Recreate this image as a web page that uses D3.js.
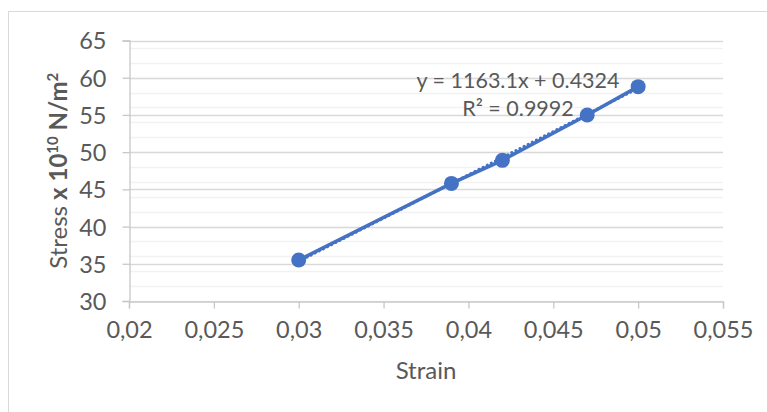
<!DOCTYPE html>
<html>
<head>
<meta charset="utf-8">
<script src="https://cdn.jsdelivr.net/npm/d3@7"></script>
<style>
  body { margin: 0; background: #fff; }
  text { font-family: Lato, "Open Sans", sans-serif; fill: #595959; }
</style>
</head>
<body>
<div id="chart"></div>
<script>
// stress vs strain
const strain = [0.03, 0.039, 0.042, 0.047, 0.05]
const stress = [35.5, 45.8, 48.9, 55.0, 58.8]
const xTicks = [0.02, 0.025, 0.03, 0.035, 0.04, 0.045, 0.05, 0.055]
const yTicks = [30, 35, 40, 45, 50, 55, 60, 65]
const yMinor = [30, 32, 34, 36, 38, 40, 42, 44, 46, 48, 50, 52, 54, 56, 58, 60, 62, 64]
const slope = 1163.1, intercept = 0.4324
const eqText = "y = 1163.1x + 0.4324"
const r2Text = "R² = 0.9992"

const width = 767, height = 412
const margin = { top: 40.5, bottom: 111, left: 129, right: 44 }
const blue = "#4472C4"

const svg = d3.select("#chart").append("svg")
    .attr("width", width)
    .attr("height", height)

// chart area border (runs off right and bottom)
svg.append("rect")
  .attr("x", 8.5).attr("y", 11.5)
  .attr("width", 800).attr("height", 450)
  .attr("fill", "none").attr("stroke", "#d9d9d9")

const x = d3.scaleLinear().domain([0.02, 0.055]).range([margin.left, width - margin.right])
const y = d3.scaleLinear().domain([30, 65]).range([height - margin.bottom, margin.top])

// minor gridlines
svg.append("g").selectAll("line").data(yMinor).join("line")
  .attr("x1", x(0.02)).attr("x2", x(0.055))
  .attr("y1", d => Math.round(y(d)) + 0.5).attr("y2", d => Math.round(y(d)) + 0.5)
  .attr("stroke", "#f2f2f2").attr("stroke-width", 1.3)

// major gridlines
svg.append("g").selectAll("line").data(yTicks.slice(1)).join("line")
  .attr("x1", x(0.02)).attr("x2", x(0.055))
  .attr("y1", d => Math.round(y(d)) + 0.5).attr("y2", d => Math.round(y(d)) + 0.5)
  .attr("stroke", "#d9d9d9").attr("stroke-width", 1.3)

const fmt = d => String(d).replace(".", ",")

const xAxis = svg.append("g")
  .attr("transform", "translate(0," + (Math.round(y(30)) + 0.5) + ")")
  .call(d3.axisBottom(x).tickValues(xTicks).tickFormat(fmt).tickSize(7).tickPadding(13))
const yAxis = svg.append("g")
  .attr("transform", "translate(" + (Math.round(x(0.02)) + 0.5) + ",0)")
  .call(d3.axisLeft(y).tickValues(yTicks).tickSize(7).tickPadding(16))

for (const ax of [xAxis, yAxis]) {
  ax.select(".domain").attr("stroke", "#c8c8c8").attr("stroke-width", 1.3)
  ax.selectAll(".tick line").attr("stroke", "#c8c8c8").attr("stroke-width", 1.3)
  ax.selectAll(".tick text").attr("font-size", 23.5).attr("fill", "#595959")
    .attr("font-family", "Lato, sans-serif")
}
yAxis.selectAll(".tick text").attr("dy", "0.36em")

// axis titles
svg.append("text")
  .attr("x", (x(0.02) + x(0.055)) / 2).attr("y", 379)
  .attr("text-anchor", "middle").attr("font-size", 24)
  .text("Strain")

const yt = svg.append("text")
  .attr("transform", "translate(67," + ((y(30) + y(65)) / 2) + ") rotate(-90)")
  .attr("text-anchor", "middle").attr("font-size", 24)
yt.append("tspan").text("Stress ")
yt.append("tspan").attr("font-weight", "bold").text("x 10")
yt.append("tspan").attr("font-weight", "bold").attr("font-size", 15).attr("dy", -9).text("10")
yt.append("tspan").attr("font-weight", "bold").attr("dy", 9).text(" N/m")
yt.append("tspan").attr("font-weight", "bold").attr("font-size", 15).attr("dy", -9).text("2")

// series line
const pts = strain.map((s, i) => [s, stress[i]])
svg.append("path")
  .datum(pts)
  .attr("fill", "none")
  .attr("stroke", blue)
  .attr("stroke-width", 3.5)
  .attr("d", d3.line().x(d => x(d[0])).y(d => y(d[1])))

// linear trendline (dotted)
const ext = d3.extent(strain)
svg.append("path")
  .datum(ext)
  .attr("fill", "none")
  .attr("stroke", blue)
  .attr("stroke-width", 3)
  .attr("stroke-linecap", "round")
  .attr("stroke-dasharray", "0.1,4.5")
  .attr("d", d3.line().x(d => x(d)).y(d => y(slope * d + intercept)))

svg.append("g").selectAll("circle").data(pts).join("circle")
  .attr("cx", d => x(d[0])).attr("cy", d => y(d[1]))
  .attr("r", 7.5).attr("fill", blue)

// trendline label
svg.append("text")
  .attr("x", 518).attr("y", 87.5)
  .attr("text-anchor", "middle").attr("font-size", 21.5)
  .text(eqText)
svg.append("text")
  .attr("x", 518).attr("y", 115.5)
  .attr("text-anchor", "middle").attr("font-size", 21.5)
  .text(r2Text)
</script>
</body>
</html>
